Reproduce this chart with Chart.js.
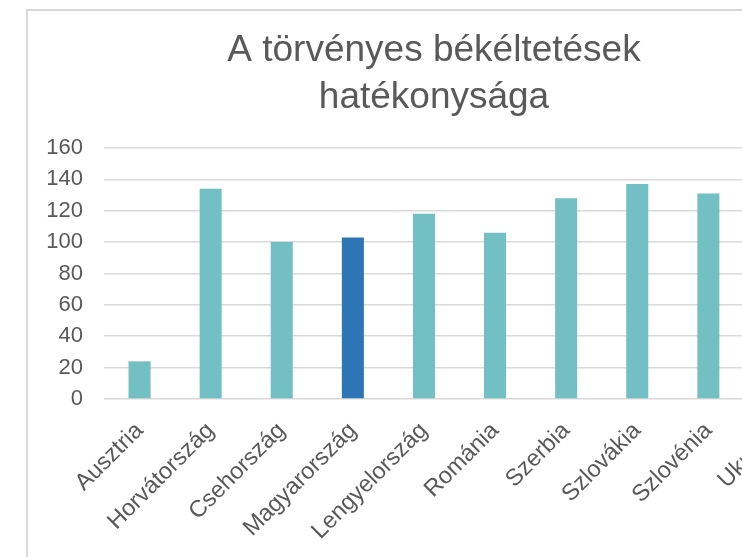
<!DOCTYPE html>
<html lang="hu">
<head>
<meta charset="utf-8">
<title>A törvényes békéltetések hatékonysága</title>
<script src="https://cdn.jsdelivr.net/npm/chart.js@4/dist/chart.umd.min.js"></script>
<style>
    html, body { margin: 0; padding: 0; background: #fff; overflow: hidden; width: 742px; height: 557px; }
    #frame {
        position: absolute; left: 26px; top: 9px; width: 830px; height: 560px;
        border-left: 2px solid #d9d9d9; border-top: 2px solid #d9d9d9;
    }
    #chart { position: absolute; left: 0; top: 0; }
</style>
</head>
<body>
<div id="frame"><canvas id="chart" width="812" height="548"></canvas></div>
<script>
// Adatok
const countries = ['Ausztria', 'Horvátország', 'Csehország', 'Magyarország', 'Lengyelország',
                   'Románia', 'Szerbia', 'Szlovákia', 'Szlovénia', 'Ukrajna'];
// Ukrajna oszlopa kilóg a képből, értéke nem olvasható
const values = [24, 134, 100, 103, 118, 106, 128, 137, 131, null];
const yTicks = [0, 20, 40, 60, 80, 100, 120, 140, 160];
const titleLines = ['A törvényes békéltetések', 'hatékonysága'];

const TEAL = '#72bfc4';
const BLUE = '#2e75b6';
const TEXT = '#595959';
const FONT = "'Liberation Sans', Arial, sans-serif";

const barColors = countries.map(c => c === 'Magyarország' ? BLUE : TEAL);

const ctx = document.getElementById('chart');
new Chart(ctx, {
    type: 'bar',
    data: {
        labels: countries,
        datasets: [{
            data: values,
            backgroundColor: barColors,
            borderWidth: 0,
            barPercentage: 0.31,
            categoryPercentage: 1
        }]
    },
    options: {
        responsive: false,
        animation: false,
        // bal/jobb padding egyforma, hogy a cím a teljes diagram közepére kerüljön
        layout: { padding: { left: 25, right: 25, top: 0, bottom: 0 } },
        plugins: {
            legend: { display: false },
            tooltip: { enabled: false },
            title: {
                display: true,
                text: titleLines,
                color: TEXT,
                font: { family: FONT, size: 37, weight: 'normal', lineHeight: 1.27 },
                padding: { top: 16, bottom: 27 }
            }
        },
        scales: {
            x: {
                grid: { display: false },
                border: { display: false },
                ticks: {
                    color: TEXT,
                    font: { family: FONT, size: 23.5 },
                    minRotation: 45,
                    maxRotation: 45,
                    autoSkip: false,
                    padding: 10
                },
                afterFit(scale) { scale.height = 160; }
            },
            y: {
                min: 0,
                max: 160,
                afterBuildTicks(scale) { scale.ticks = yTicks.map(v => ({ value: v })); },
                grid: { color: '#d9d9d9', lineWidth: 1.5, drawTicks: false },
                border: { display: false },
                ticks: {
                    color: TEXT,
                    font: { family: FONT, size: 22 },
                    padding: 21
                },
                afterFit(scale) {
                    scale.width = 51;
                    // a feliratok kilóghatnak a tengely dobozából balra
                    scale._computeLabelArea = () => undefined;
                }
            }
        }
    }
});
</script>
</body>
</html>
